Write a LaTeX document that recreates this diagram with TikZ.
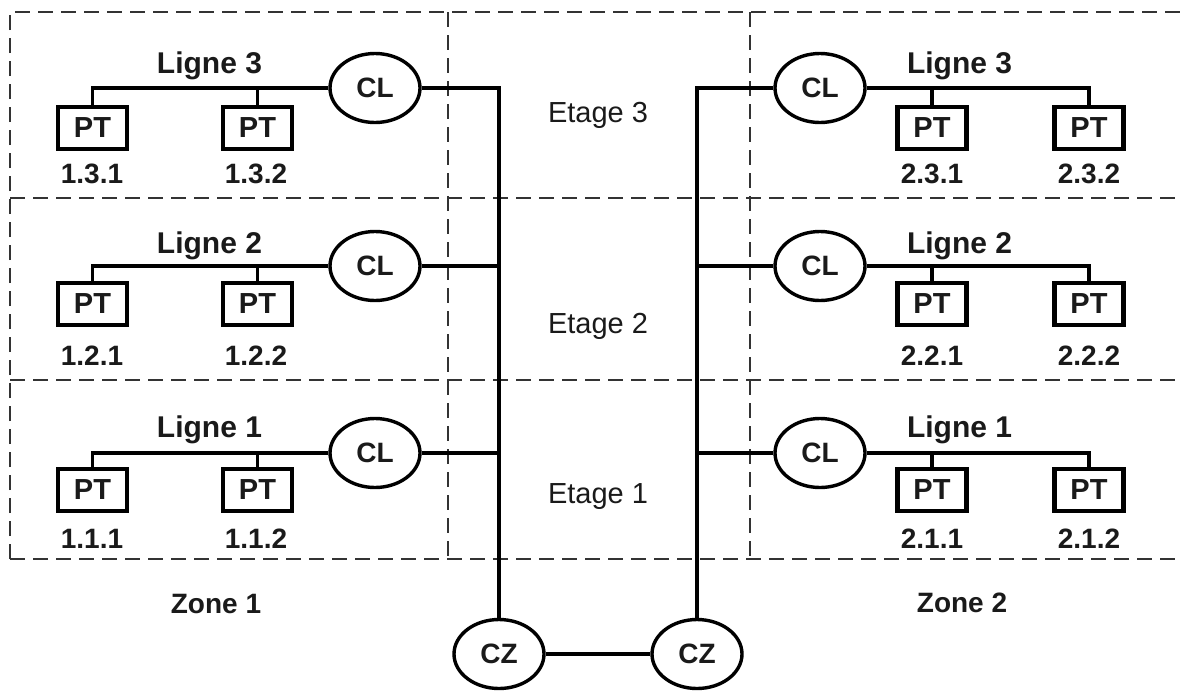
\documentclass[tikz,border=0pt]{standalone}
\usepackage{fontspec}
\setmainfont{Liberation Sans}
\usetikzlibrary{shapes.geometric}
\definecolor{ink}{HTML}{1A1A1A}
\definecolor{zonegray}{HTML}{333333}
\tikzset{
  wire/.style={line width=3.5pt, draw=black},
  zoneline/.style={line width=2.6pt, draw=zonegray, dash pattern=on 15pt off 8pt},
  ptbox/.style={draw=black, line width=4.2pt, minimum width=69pt, minimum height=42pt,
    inner sep=0pt, text=ink, font=\bfseries\fontsize{29}{32}\selectfont},
  ctrl/.style={ellipse, draw=black, line width=3.4pt, fill=white, minimum width=90pt,
    minimum height=69pt, inner sep=0pt, text=ink, font=\bfseries\fontsize{28}{32}\selectfont},
  tag/.style={inner sep=0pt, anchor=base, text=ink, font=\bfseries\fontsize{28}{32}\selectfont},
  linename/.style={tag, font=\bfseries\fontsize{30}{32}\selectfont},
  floor/.style={inner sep=0pt, anchor=base, text=ink, font=\fontsize{29}{32}\selectfont},
}
\begin{document}
\begin{tikzpicture}[x=1pt, y=-1pt]
  \useasboundingbox (0,0) rectangle (1180,691);
  \fill[white] (0,0) rectangle (1180,691);

  % zone and floor boundaries
  \draw[zoneline] (10,559) -- (10,12) -- (1180,12);
  \draw[zoneline] (10,198) -- (1180,198);
  \draw[zoneline] (10,380) -- (1180,380);
  \draw[zoneline] (10,559) -- (1180,559);
  \draw[zoneline] (448,12) -- (448,559);
  \draw[zoneline] (750,12) -- (750,559);

  % zone controllers
  \node[ctrl] (czL) at (499,654) {CZ};
  \node[ctrl] (czR) at (697,654) {CZ};
  \draw[wire] (czL.east) -- (czR.west);

  % floor labels
  \node[floor] (et3) at (598,122) {Etage 3};
  \node[floor] (et2) at (598,333) {Etage 2};
  \node[floor] (et1) at (598,503) {Etage 1};

  % zone labels
  \node[tag] (zn1) at (216,613) {Zone 1};
  \node[tag] (zn2) at (962,612) {Zone 2};

  % one line per floor in each zone
  \foreach \r/\ly/\by/\lb/\gb in {3/88/128/183/73, 2/266/304/365/253, 1/453/490/548/437} {
    % zone 1
    \node[ctrl] (clL\r) at (375,\ly) {CL};
    \node[ptbox] (ptLa\r) at (92.5,\by) {PT};
    \node[ptbox] (ptLb\r) at (257.5,\by) {PT};
    \node[tag] (nmLa\r) at (92,\lb) {1.\r.1};
    \node[tag] (nmLb\r) at (256,\lb) {1.\r.2};
    \node[linename] (lgL\r) at (209.5,\gb) {Ligne \r};
    \draw[wire] (clL\r.west) -| (ptLa\r.north);
    \draw[wire] (ptLb\r.north) |- (clL\r.west);
    \draw[wire] (clL\r.east) -| (czL.north);
    % zone 2
    \node[ctrl] (clR\r) at (820,\ly) {CL};
    \node[ptbox] (ptRa\r) at (932,\by) {PT};
    \node[ptbox] (ptRb\r) at (1089,\by) {PT};
    \node[tag] (nmRa\r) at (932,\lb) {2.\r.1};
    \node[tag] (nmRb\r) at (1089,\lb) {2.\r.2};
    \node[linename] (lgR\r) at (959.5,\gb) {Ligne \r};
    \draw[wire] (clR\r.east) -| (ptRb\r.north);
    \draw[wire] (ptRa\r.north) |- (clR\r.east);
    \draw[wire] (clR\r.west) -| (czR.north);
  }
\end{tikzpicture}
\end{document}
